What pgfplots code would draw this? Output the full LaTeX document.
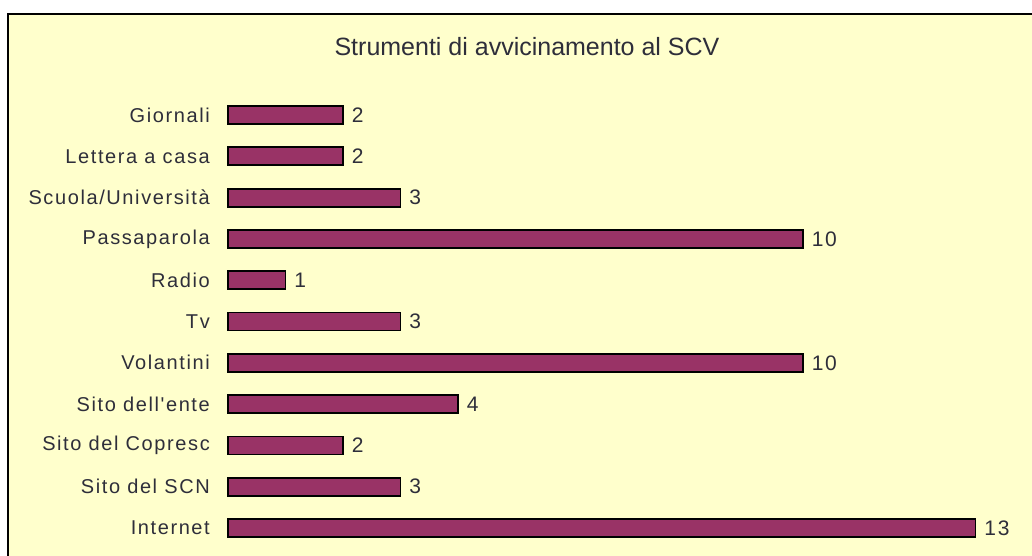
\documentclass[border=0pt]{standalone}
\usepackage{pgfplots}
\pgfplotsset{compat=1.18}
\usepackage{fontspec}
\setmainfont{Liberation Sans}
\newfontfamily\lsfont[LetterSpace=8]{Liberation Sans}
\definecolor{bg}{HTML}{FFFFCC}
\definecolor{barc}{HTML}{993366}
\definecolor{txt}{HTML}{2E2E3A}
\begin{document}
\begin{tikzpicture}[x=1pt,y=1pt]
\useasboundingbox (0,0) rectangle (1032,555);
\begin{scope}
\clip (0,0) rectangle (1032,555);
\fill[white] (0,0) rectangle (1032,555);
\draw[line width=2pt, fill=bg] (8,-20) rectangle (1050,541);
\end{scope}
\node[text=txt, font=\fontsize{25}{29}\selectfont] at (527,508) {Strumenti di avvicinamento al SCV};
\begin{axis}[
  at={(228pt,6.35pt)}, anchor=south west, scale only axis,
  width=747.5pt, height=454.3pt,
  xmin=0, xmax=13, ymin=-0.5, ymax=10.5,
  xbar, bar width=18pt, clip=false,
  axis line style={draw=none}, major tick length=0pt,
  xtick=\empty,
  ytick={0,...,10},
  yticklabels={Internet, Sito del SCN, Sito del Copresc, Sito dell'ente, Volantini, Tv, Radio, Passaparola, Scuola/Università, Lettera a casa, Giornali},
  yticklabel style={font=\lsfont\fontsize{20}{23}\selectfont, text=txt, inner sep=0pt, xshift=-18pt},
  /pgf/number format/assume math mode=true,
  point meta=x,
  nodes near coords,
  nodes near coords style={font=\lsfont\fontsize{21}{24}\selectfont, text=txt, anchor=west, inner sep=0pt, xshift=8pt},
]
\addplot[fill=barc, draw=black, line width=1.8pt] coordinates {
 (13,0) (3,1) (2,2) (4,3) (10,4) (3,5) (1,6) (10,7) (3,8) (2,9) (2,10)
};
\end{axis}
\end{tikzpicture}
\end{document}
